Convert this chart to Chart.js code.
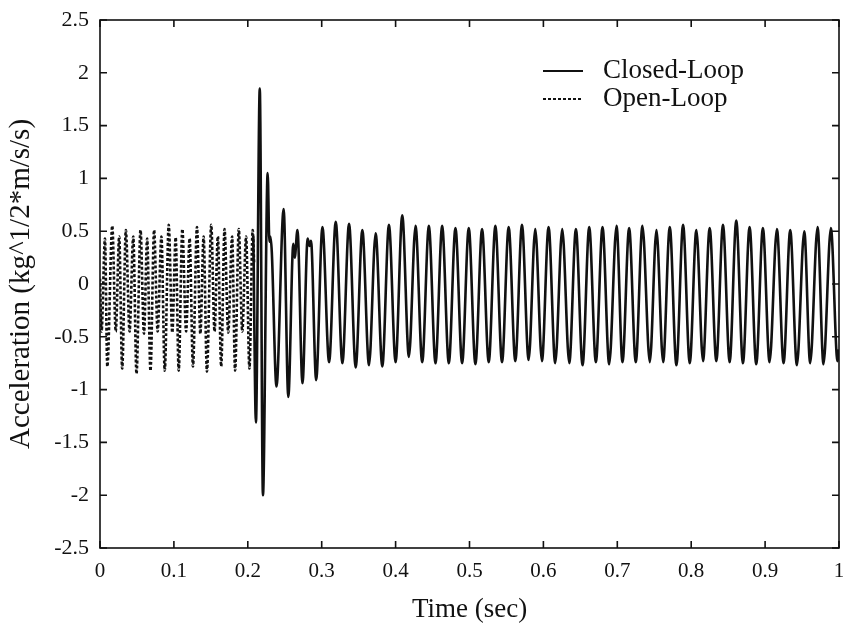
<!DOCTYPE html>
<html>
<head>
<meta charset="utf-8">
<script src="https://cdn.jsdelivr.net/npm/chart.js@4.4.1/dist/chart.umd.min.js"></script>
<style>
  body { margin: 0; background: #fff; }
  #wrap { width: 851px; height: 630px; }
</style>
</head>
<body>
<div id="wrap"><canvas id="chart-area" width="851" height="630"></canvas></div>
<script>
// open-loop run (before the controller switches on), time in sec
var openTime = [0.0000, 0.0021, 0.0067, 0.0099, 0.0166, 0.0213, 0.0260, 0.0300, 0.0350, 0.0400,
    0.0450, 0.0494, 0.0548, 0.0595, 0.0638, 0.0683, 0.0732, 0.0780, 0.0831, 0.0876,
    0.0930, 0.0978, 0.1024, 0.1065, 0.1114, 0.1165, 0.1213, 0.1258, 0.1312, 0.1358,
    0.1402, 0.1447, 0.1505, 0.1550, 0.1595, 0.1640, 0.1685, 0.1735, 0.1788, 0.1828,
    0.1878, 0.1925, 0.1977, 0.2022, 0.2066, 0.2085];
var openAccel = [0.05, -0.45, 0.43, -0.78, 0.55, -0.45, 0.45, -0.80, 0.51, -0.45,
    0.45, -0.85, 0.51, -0.47, 0.43, -0.82, 0.51, -0.45, 0.45, -0.82,
    0.56, -0.46, 0.44, -0.82, 0.52, -0.45, 0.43, -0.78, 0.54, -0.47,
    0.45, -0.83, 0.56, -0.45, 0.45, -0.78, 0.52, -0.46, 0.45, -0.82,
    0.52, -0.45, 0.45, -0.80, 0.51, 0.20];

// closed-loop run
var closedTime = [0.2075, 0.2110, 0.2162, 0.2205, 0.2269, 0.2292, 0.2305, 0.2325, 0.2388, 0.2485,
    0.2548, 0.2616, 0.2635, 0.2672, 0.2740, 0.2810, 0.2835, 0.2855, 0.2925, 0.3010,
    0.3100, 0.3190, 0.3280, 0.3370, 0.3460, 0.3550, 0.3640, 0.3730, 0.3820, 0.3910,
    0.4000, 0.4090, 0.4180, 0.4270, 0.4360, 0.4450, 0.4540, 0.4630, 0.4720, 0.4810,
    0.4900, 0.4990, 0.5080, 0.5170, 0.5260, 0.5350, 0.5440, 0.5530, 0.5620, 0.5710,
    0.5800, 0.5890, 0.5980, 0.6070, 0.6160, 0.6255, 0.6350, 0.6440, 0.6530, 0.6620,
    0.6710, 0.6800, 0.6890, 0.6990, 0.7070, 0.7160, 0.7250, 0.7340, 0.7440, 0.7530,
    0.7620, 0.7710, 0.7800, 0.7890, 0.7980, 0.8070, 0.8160, 0.8250, 0.8340, 0.8430,
    0.8520, 0.8610, 0.8700, 0.8790, 0.8880, 0.8970, 0.9060, 0.9160, 0.9250, 0.9340,
    0.9430, 0.9530, 0.9610, 0.9710, 0.9790, 0.9890, 0.9980, 1.0000];
var closedAccel = [0.45, -1.31, 1.85, -2.00, 1.05, 0.40, 0.45, 0.30, -0.97, 0.71,
    -1.07, 0.38, 0.25, 0.51, -0.94, 0.43, 0.36, 0.41, -0.91, 0.54,
    -0.74, 0.59, -0.75, 0.57, -0.79, 0.51, -0.77, 0.48, -0.78, 0.56,
    -0.74, 0.65, -0.69, 0.55, -0.74, 0.55, -0.75, 0.55, -0.75, 0.53,
    -0.75, 0.53, -0.76, 0.52, -0.74, 0.55, -0.74, 0.54, -0.73, 0.56,
    -0.72, 0.52, -0.73, 0.54, -0.75, 0.52, -0.75, 0.52, -0.77, 0.54,
    -0.74, 0.54, -0.76, 0.55, -0.74, 0.53, -0.74, 0.55, -0.74, 0.51,
    -0.74, 0.54, -0.77, 0.56, -0.75, 0.51, -0.73, 0.53, -0.73, 0.56,
    -0.74, 0.60, -0.75, 0.54, -0.76, 0.53, -0.74, 0.52, -0.75, 0.51,
    -0.77, 0.50, -0.75, 0.54, -0.76, 0.53, -0.73, -0.62];

var seriesNames = ["Closed-Loop", "Open-Loop"];
var xTitle = "Time (sec)";
var yTitle = "Acceleration (kg^1/2*m/s/s)";

function toPoints(t, v) {
    var pts = [];
    for (var i = 0; i < t.length; i++) pts.push({x: t[i], y: v[i]});
    return pts;
}

var ink = "#111";
var serif = "'Liberation Serif', 'DejaVu Serif', serif";

// box round the plot with inward ticks, plus the legend inside the plot
var frame = {
    id: "frame",
    afterDatasetsDraw: function(chart) {
        var ctx = chart.ctx, a = chart.chartArea;
        var xs = chart.scales.x, ys = chart.scales.y;
        ctx.save();
        ctx.strokeStyle = ink;
        ctx.lineWidth = 1.6;
        ctx.setLineDash([]);
        ctx.strokeRect(a.left, a.top, a.right - a.left, a.bottom - a.top);
        ctx.beginPath();
        xs.ticks.forEach(function(t) {
            var p = xs.getPixelForValue(t.value);
            ctx.moveTo(p, a.bottom); ctx.lineTo(p, a.bottom - 7);
            ctx.moveTo(p, a.top); ctx.lineTo(p, a.top + 7);
        });
        ys.ticks.forEach(function(t) {
            var p = ys.getPixelForValue(t.value);
            ctx.moveTo(a.left, p); ctx.lineTo(a.left + 7, p);
            ctx.moveTo(a.right, p); ctx.lineTo(a.right - 7, p);
        });
        ctx.stroke();

        // legend
        var lx = 543, tx = 603, rows = [71, 99];
        chart.data.datasets.forEach(function(ds, i) {
            ctx.beginPath();
            ctx.lineWidth = 2;
            ctx.setLineDash(ds.borderDash || []);
            ctx.moveTo(lx, rows[i]); ctx.lineTo(lx + 40, rows[i]);
            ctx.stroke();
            ctx.setLineDash([]);
            ctx.fillStyle = ink;
            ctx.font = "27px " + serif;
            ctx.textBaseline = "middle";
            ctx.fillText(ds.label, tx, rows[i]);
        });
        ctx.restore();
    }
};

var ctx = document.getElementById("chart-area").getContext("2d");
var myChart = new Chart(ctx, {
    type: "line",
    data: {
        datasets: [
            {
                label: seriesNames[0],
                data: toPoints(closedTime, closedAccel),
                borderColor: ink,
                borderWidth: 2.6,
                pointRadius: 0,
                cubicInterpolationMode: "monotone",
                fill: false
            },
            {
                label: seriesNames[1],
                data: toPoints(openTime, openAccel),
                borderColor: ink,
                borderWidth: 2.6,
                borderDash: [3, 2],
                pointRadius: 0,
                cubicInterpolationMode: "monotone",
                fill: false
            }
        ]
    },
    options: {
        responsive: false,
        animation: false,
        layout: { padding: { top: 20, right: 12, left: 0, bottom: 0 } },
        plugins: { legend: { display: false }, tooltip: { enabled: false } },
        scales: {
            x: {
                type: "linear",
                min: 0, max: 1,
                grid: { display: false },
                border: { display: false },
                ticks: {
                    stepSize: 0.1,
                    color: ink,
                    font: { family: serif, size: 21 },
                    padding: 3,
                    maxRotation: 0,
                    callback: function(v) { return String(Math.round(v * 10) / 10); }
                },
                title: { display: true, text: xTitle, color: ink, font: { family: serif, size: 27 }, padding: { top: 10 } },
                afterFit: function(s) { s.height = 82; }
            },
            y: {
                type: "linear",
                min: -2.5, max: 2.5,
                grid: { display: false },
                border: { display: false },
                ticks: {
                    stepSize: 0.5,
                    color: ink,
                    font: { family: serif, size: 22 },
                    padding: 3,
                    callback: function(v) { return String(Math.round(v * 10) / 10); }
                },
                title: { display: true, text: yTitle, color: ink, font: { family: serif, size: 29 }, padding: { bottom: 2 } },
                afterFit: function(s) { s.width = 100; }
            }
        }
    },
    plugins: [frame]
});
</script>
</body>
</html>
